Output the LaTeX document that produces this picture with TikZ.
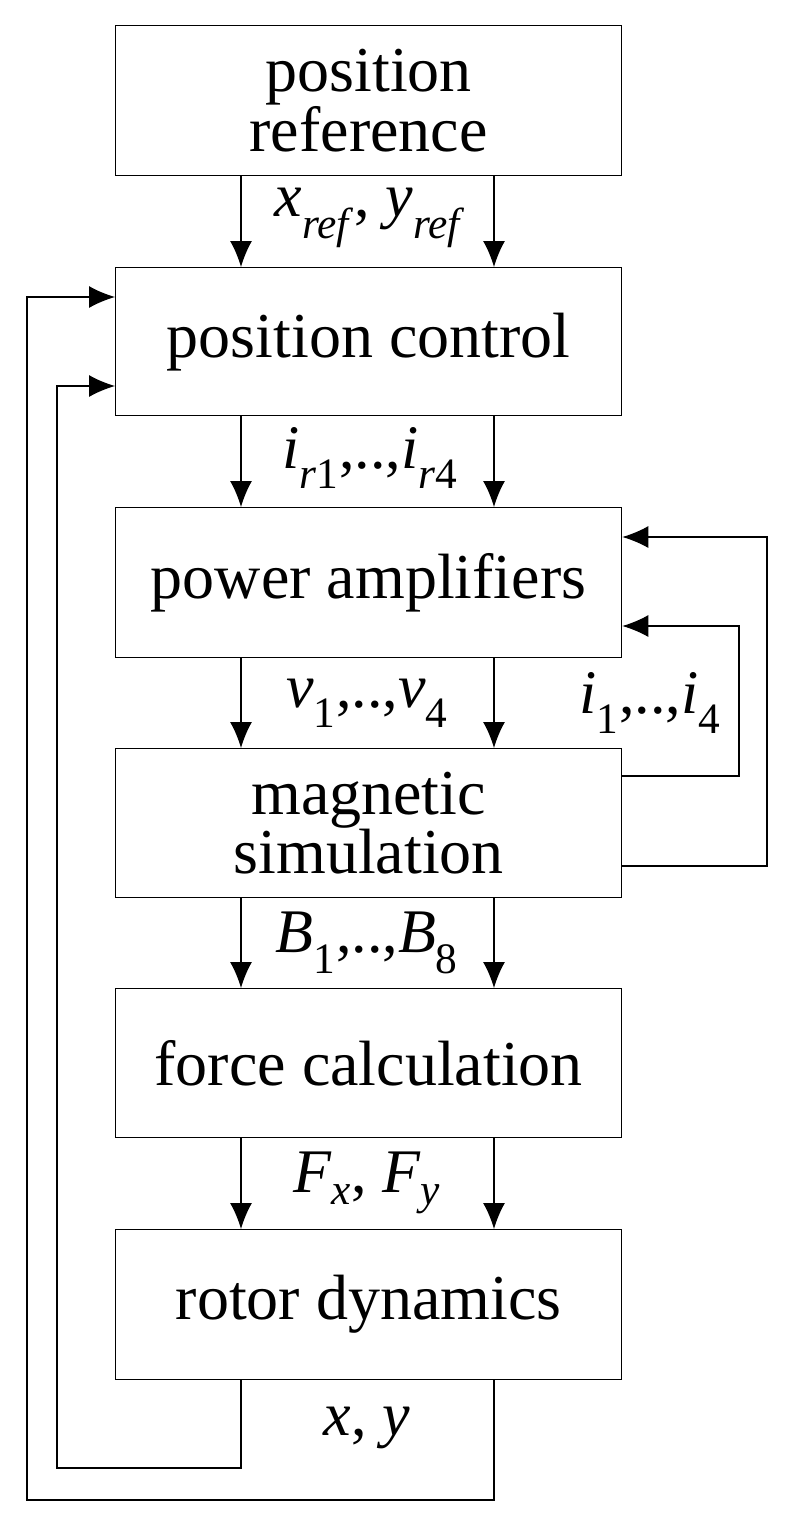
\documentclass[tikz,border=0pt]{standalone}
\usepackage{fontspec}
\setmainfont{Liberation Serif}
\usetikzlibrary{arrows.meta}
\newcommand{\vr}[2]{\textit{#1}\textsubscript{#2}}
\begin{document}
\begin{tikzpicture}[x=1pt,y=-1pt,
  box/.style={draw,line width=1.3pt,minimum width=506pt,anchor=north west,inner sep=0pt,align=center,font=\fontsize{64}{58}\selectfont},
  lab/.style={font=\fontsize{62}{58}\selectfont},
  ar/.style={line width=1.3pt,-{Latex[length=26pt,width=22pt]}}]
\useasboundingbox (0,0) rectangle (793,1528);
\node[box,minimum height=150pt] (b1) at (115,25) {position\\reference};
\node[box,minimum height=148pt] (b2) at (115,267) {position control};
\node[box,minimum height=150pt] (b3) at (115,507) {power amplifiers};
\node[box,minimum height=149pt] (b4) at (115,748) {magnetic\\simulation};
\node[box,minimum height=149pt] (b5) at (115,988) {force calculation};
\node[box,minimum height=150pt] (b6) at (115,1229) {rotor dynamics};
\foreach \a/\b in {b1/b2,b2/b3,b3/b4,b4/b5,b5/b6}{
  \draw[ar] (\a.south west -| 241,0) -- (\b.north west -| 241,0);
  \draw[ar] (\a.south west -| 494,0) -- (\b.north west -| 494,0);
}
\node[lab] (l1) at (370,218) {\vr{x}{\textit{ref}}, \vr{y}{\textit{ref}}};
\node[lab] (l2) at (370,458) {\vr{i}{\textit{r}1},..,\vr{i}{\textit{r}4}};
\node[lab] (l3) at (367,703) {\vr{v}{1},..,\vr{v}{4}};
\node[lab] (l4) at (650,703) {\vr{i}{1},..,\vr{i}{4}};
\node[lab] (l5) at (367,943) {\vr{B}{1},..,\vr{B}{8}};
\node[lab] (l6) at (367,1183) {\vr{F}{\textit{x}}, \vr{F}{\textit{y}}};
\node[lab] (l7) at (367,1428) {\textit{x}, \textit{y}};
\coordinate (f1) at (621,776);
\coordinate (f2) at (621,866);
\draw[ar] (f1) -- (739,776) -- (739,626) -- (b3.north east |- 0,626);
\draw[ar] (f2) -- (767,866) -- (767,537) -- (b3.north east |- 0,537);
\draw[ar] (b6.south west -| 241,0) -- (241,1468) -- (57,1468) -- (57,386) -- (b2.north west |- 0,386);
\draw[ar] (b6.south west -| 494,0) -- (494,1500) -- (27,1500) -- (27,297) -- (b2.north west |- 0,297);
\end{tikzpicture}
\end{document}
